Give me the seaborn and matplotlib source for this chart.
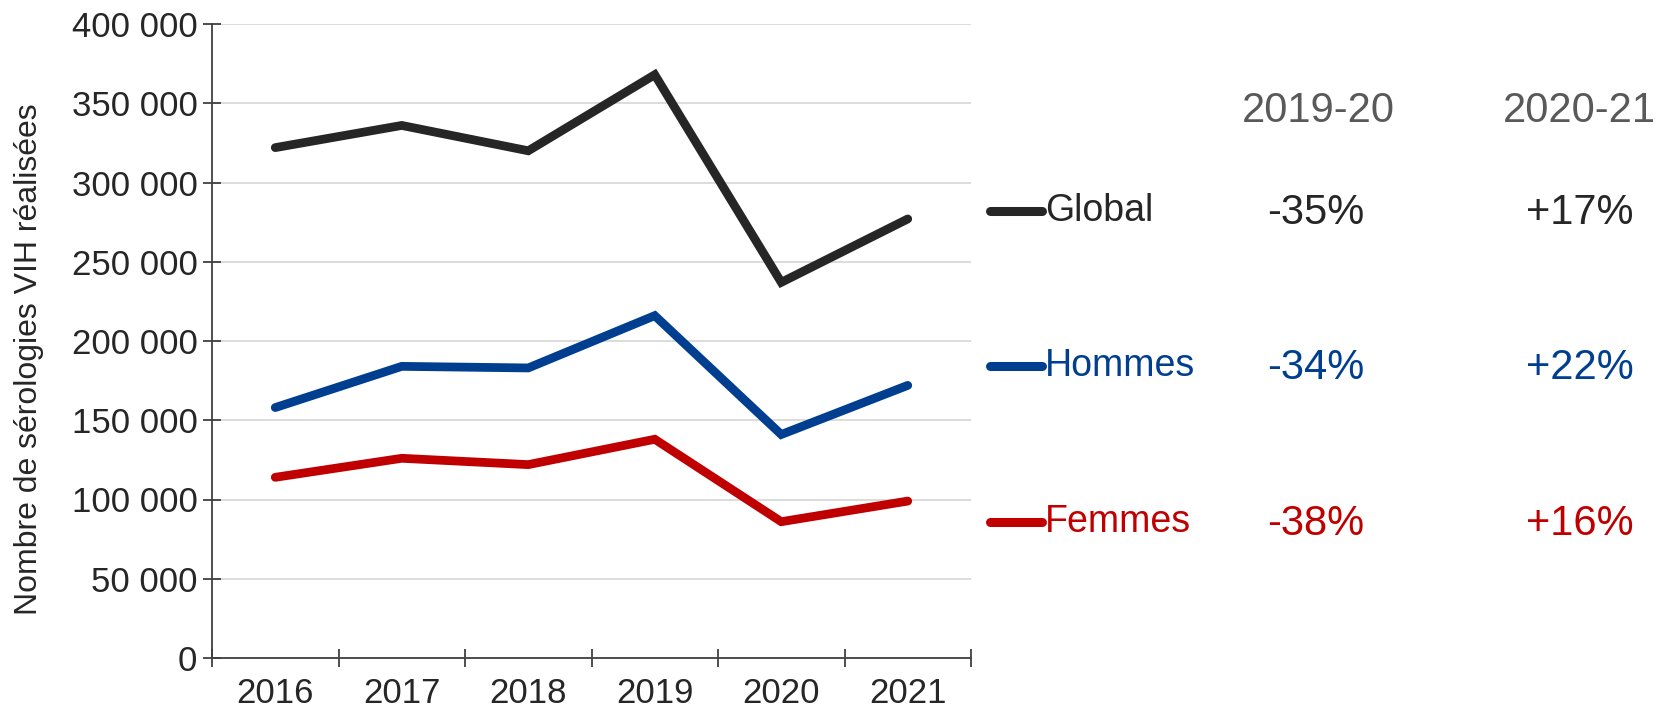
import pandas as pd
import numpy as np
import matplotlib
matplotlib.use("Agg")
import matplotlib.pyplot as plt
import seaborn as sns
from matplotlib.lines import Line2D
from matplotlib.ticker import FuncFormatter, FixedLocator

# --- données ---
annees = ["2016", "2017", "2018", "2019", "2020", "2021"]
global_vals = [322000, 336000, 320000, 368000, 237000, 277000]
hommes_vals = [158000, 184000, 183000, 216000, 141000, 172000]
femmes_vals = [114000, 126000, 122000, 138000, 86000, 99000]

series = ["Global", "Hommes", "Femmes"]
evol_1920 = ["-35%", "-34%", "-38%"]
evol_2021 = ["+17%", "+22%", "+16%"]
periodes = ["2019-20", "2020-21"]

couleurs = {"Global": "#262626", "Hommes": "#003f8f", "Femmes": "#c00000"}

df = pd.DataFrame({
    "annee": annees * 3,
    "idx": list(range(len(annees))) * 3,
    "valeur": global_vals + hommes_vals + femmes_vals,
    "serie": ["Global"] * 6 + ["Hommes"] * 6 + ["Femmes"] * 6,
})

sns.set_style("white")
plt.rcParams["font.family"] = ["Liberation Sans", "DejaVu Sans"]
TXT = "#262626"

W, H = 1664, 711
fig = plt.figure(figsize=(W / 100, H / 100), dpi=100)
ax = fig.add_axes([212 / W, 1 - 658 / H, (971 - 212) / W, (658 - 24) / H])

sns.lineplot(data=df, x="idx", y="valeur", hue="serie", palette=couleurs,
             hue_order=series, linewidth=6.3, ax=ax, legend=False,
             solid_capstyle="round", solid_joinstyle="miter")

ax.set_xlim(-0.5, len(annees) - 0.5)
ax.set_ylim(0, 400000)
ax.set_yticks(np.arange(0, 400001, 50000))
ax.yaxis.set_major_formatter(FuncFormatter(lambda v, p: f"{int(v):,}".replace(",", " ")))
ax.yaxis.grid(True, color="#d9d9d9", linewidth=1.3)
ax.set_axisbelow(True)

ax.set_xticks(range(len(annees)))
ax.set_xticklabels(annees)
ax.xaxis.set_minor_locator(FixedLocator(np.arange(-0.5, len(annees), 1.0)))
ax.tick_params(axis="x", which="major", bottom=True, length=0, pad=14, labelsize=25, labelcolor=TXT)
ax.tick_params(axis="x", which="minor", bottom=True, direction="inout", length=13, width=1.3, color="#404040")
ax.tick_params(axis="y", left=True, direction="inout", length=13, width=1.3, color="#404040",
               pad=4, labelsize=25, labelcolor=TXT)

for s in ["top", "right"]:
    ax.spines[s].set_visible(False)
for s in ["left", "bottom"]:
    ax.spines[s].set_color("#404040")
    ax.spines[s].set_linewidth(1.3)

ax.set_xlabel("")
ax.set_ylabel("Nombre de sérologies VIH réalisées", fontsize=23, color=TXT)
ax.yaxis.set_label_coords(-0.222, 0.472)

# --- légende et évolutions à droite ---
def fx(px):
    return px / W

def fy(py):
    return 1 - py / H

fig.text(fx(1318), fy(111), periodes[0], fontsize=30, color="#595959", ha="center", va="center")
fig.text(fx(1579), fy(111), periodes[1], fontsize=30, color="#595959", ha="center", va="center")

rows_y = [211, 366, 522]
for serie, y, e1, e2 in zip(series, rows_y, evol_1920, evol_2021):
    c = couleurs[serie]
    fig.add_artist(Line2D([fx(990), fx(1042)], [fy(y), fy(y)], color=c, linewidth=6.5,
                          solid_capstyle="round", transform=fig.transFigure))
    fig.text(fx(1045), fy(y), serie, fontsize=27, color=c, ha="left", va="center")
    fig.text(fx(1316), fy(y + 2), e1, fontsize=30, color=c, ha="center", va="center")
    fig.text(fx(1580), fy(y + 2), e2, fontsize=30, color=c, ha="center", va="center")

fig.savefig("out.png", dpi=100)
